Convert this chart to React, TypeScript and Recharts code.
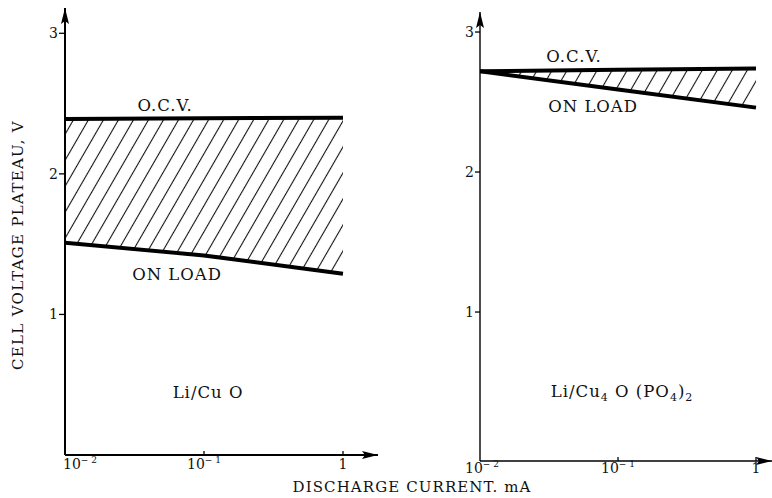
import React from "react";
import {
  ComposedChart,
  Area,
  Line,
  XAxis,
  YAxis,
  ReferenceDot,
} from "recharts";

// discharge current, mA (log axis)
const CURRENT = [0.01, 0.1, 1];
const X_TICKS = [0.01, 0.1, 1];
const Y_TICKS = [1, 2, 3];

// Li/CuO cell
const LEFT_OCV = [2.39, 2.395, 2.4];
const LEFT_LOAD = [1.51, 1.42, 1.29];

// Li/Cu4O(PO4)2 cell
const RIGHT_OCV = [2.72, 2.73, 2.74];
const RIGHT_LOAD = [2.72, 2.59, 2.46];

const FONT = "'DejaVu Serif', 'Liberation Serif', serif";

const leftData = CURRENT.map((c, i) => ({
  current: c,
  ocv: LEFT_OCV[i],
  load: LEFT_LOAD[i],
  band: [LEFT_LOAD[i], LEFT_OCV[i]],
}));

const rightData = CURRENT.map((c, i) => ({
  current: c,
  ocv: RIGHT_OCV[i],
  load: RIGHT_LOAD[i],
  band: [RIGHT_LOAD[i], RIGHT_OCV[i]],
}));

const EXP: Record<number, string> = { 0.01: "\u2212 2", 0.1: "\u2212 1" };

function makeXTick(dy: number, firstShift: number) {
  return function XTick(props: any) {
    const { x, y, payload, index } = props;
    const v = payload.value;
    const exp = EXP[v];
    const dx = index === 0 ? firstShift : 0;
    return (
      <g>
        {index > 0 && <line x1={x} x2={x} y1={y} y2={y - 4} stroke="#000" strokeWidth={1.3} />}
        <text
          x={x + dx}
          y={y + dy}
          textAnchor="middle"
          fontSize={14}
          fontFamily={FONT}
          fill="#111"
        >
          {exp ? (
            <>
              <tspan>10</tspan>
              <tspan dy={-6} fontSize={9}>{exp}</tspan>
            </>
          ) : (
            <tspan>1</tspan>
          )}
        </text>
      </g>
    );
  };
}

function Note({ text, parts }: { text?: string; parts?: [string, boolean][] }) {
  return function NoteLabel(props: any) {
    const vb = props.viewBox || {};
    const cx = (vb.x ?? 0) + (vb.width ?? 0) / 2;
    const cy = (vb.y ?? 0) + (vb.height ?? 0) / 2;
    return (
      <text
        x={cx}
        y={cy + 6}
        textAnchor="middle"
        fontSize={16.5}
        letterSpacing={1}
        fontFamily={FONT}
        fill="#111"
      >
        {parts
          ? parts.map(([t, sub], i) =>
              sub ? (
                <tspan key={i} fontSize={11} dy={4}>
                  {t}
                </tspan>
              ) : (
                <tspan key={i} dy={i > 0 && parts[i - 1][1] ? -4 : 0}>
                  {t}
                </tspan>
              )
            )
          : text}
      </text>
    );
  };
}

function Defs({ id }: { id: string }) {
  return (
    <defs>
      <pattern
        id={`hatch-${id}`}
        patternUnits="userSpaceOnUse"
        width={13}
        height={13}
        patternTransform="rotate(30)"
      >
        <line x1={6.5} y1={0} x2={6.5} y2={13} stroke="#111" strokeWidth={1.1} />
      </pattern>
      <marker
        id={`arrow-${id}`}
        viewBox="0 0 16 8"
        refX={16}
        refY={4}
        markerWidth={16}
        markerHeight={8}
        markerUnits="userSpaceOnUse"
        orient="auto-start-reverse"
      >
        <path d="M0,0 L16,4 L0,8 L3,4 z" fill="#000" />
      </marker>
    </defs>
  );
}

const yTick = { fontSize: 14, fill: "#111", fontFamily: FONT };

export default function App() {
  return (
    <div style={{ position: "absolute", left: 0, top: 0, width: 772, height: 498, background: "#fff" }}>
      {/* left panel: Li/CuO */}
      <div style={{ position: "absolute", left: 0, top: 0 }}>
        <ComposedChart
          width={390}
          height={498}
          data={leftData}
          margin={{ top: 8, right: 12, left: 0, bottom: 42 }}
        >
          <Defs id="l" />
          <XAxis
            dataKey="current"
            type="number"
            scale="log"
            domain={[0.01, 1.786]}
            allowDataOverflow
            ticks={X_TICKS}
            height={1}
            tickSize={0}
            tickMargin={0}
            tickLine={false}
            axisLine={{ stroke: "#000", strokeWidth: 2, markerEnd: "url(#arrow-l)" }}
            tick={makeXTick(14, 15)}
            interval={0}
          />
          <YAxis
            type="number"
            width={65}
            domain={[0, 3.18]}
            allowDataOverflow
            ticks={Y_TICKS}
            tickSize={6}
            tickMargin={1}
            tick={yTick}
            tickLine={{ stroke: "#000", strokeWidth: 1.3 }}
            axisLine={{ stroke: "#000", strokeWidth: 2, markerStart: "url(#arrow-l)" }}
          />
          <Area
            dataKey="band"
            type="linear"
            stroke="none"
            fill="url(#hatch-l)"
            fillOpacity={1}
            isAnimationActive={false}
          />
          <Line dataKey="ocv" type="linear" stroke="#000" strokeWidth={4} dot={false} isAnimationActive={false} />
          <Line dataKey="load" type="linear" stroke="#000" strokeWidth={4} dot={false} isAnimationActive={false} />
          <ReferenceDot x={0.0525} y={2.49} r={1} fill="none" stroke="none" label={{ content: Note({ text: "O.C.V." }) }} />
          <ReferenceDot x={0.064} y={1.285} r={1} fill="none" stroke="none" label={{ content: Note({ text: "ON LOAD" }) }} />
          <ReferenceDot x={0.107} y={0.445} r={1} fill="none" stroke="none" label={{ content: Note({ text: "Li/Cu O" }) }} />
        </ComposedChart>
      </div>

      {/* right panel: Li/Cu4O(PO4)2 */}
      <div style={{ position: "absolute", left: 390, top: 0 }}>
        <ComposedChart
          width={382}
          height={498}
          data={rightData}
          margin={{ top: 12, right: 0, left: 0, bottom: 36 }}
        >
          <Defs id="r" />
          <XAxis
            dataKey="current"
            type="number"
            scale="log"
            domain={[0.01, 1.306]}
            allowDataOverflow
            ticks={X_TICKS}
            height={1}
            tickSize={0}
            tickMargin={0}
            tickLine={false}
            axisLine={{ stroke: "#000", strokeWidth: 1.6, markerEnd: "url(#arrow-r)" }}
            tick={makeXTick(12, 2)}
            interval={0}
          />
          <YAxis
            type="number"
            width={90}
            domain={[-0.064, 3.143]}
            allowDataOverflow
            ticks={Y_TICKS}
            tickSize={5}
            tickMargin={1}
            tick={yTick}
            tickLine={{ stroke: "#000", strokeWidth: 1.3 }}
            axisLine={{ stroke: "#000", strokeWidth: 1.4, markerStart: "url(#arrow-r)" }}
          />
          <Area
            dataKey="band"
            type="linear"
            stroke="none"
            fill="url(#hatch-r)"
            fillOpacity={1}
            isAnimationActive={false}
          />
          <Line dataKey="ocv" type="linear" stroke="#000" strokeWidth={4} dot={false} isAnimationActive={false} />
          <Line dataKey="load" type="linear" stroke="#000" strokeWidth={4} dot={false} isAnimationActive={false} />
          <ReferenceDot x={0.048} y={2.83} r={1} fill="none" stroke="none" label={{ content: Note({ text: "O.C.V." }) }} />
          <ReferenceDot x={0.066} y={2.47} r={1} fill="none" stroke="none" label={{ content: Note({ text: "ON LOAD" }) }} />
          <ReferenceDot
            x={0.107}
            y={0.436}
            r={1}
            fill="none"
            stroke="none"
            label={{
              content: Note({
                parts: [
                  ["Li/Cu", false],
                  ["4", true],
                  [" O (PO", false],
                  ["4", true],
                  [")", false],
                  ["2", true],
                ],
              }),
            }}
          />
        </ComposedChart>
      </div>

      {/* shared axis titles */}
      <div
        style={{
          position: "absolute",
          left: 18,
          top: 245,
          transform: "translate(-50%, -50%) rotate(-90deg)",
          whiteSpace: "nowrap",
          fontFamily: FONT,
          fontSize: 15,
          color: "#111",
          letterSpacing: 1.3,
        }}
      >
        CELL VOLTAGE PLATEAU, V
      </div>
      <div
        style={{
          position: "absolute",
          left: 412,
          top: 487,
          transform: "translate(-50%, -50%)",
          whiteSpace: "nowrap",
          fontFamily: FONT,
          fontSize: 15,
          color: "#111",
          letterSpacing: 1.1,
        }}
      >
        DISCHARGE CURRENT. mA
      </div>
    </div>
  );
}
